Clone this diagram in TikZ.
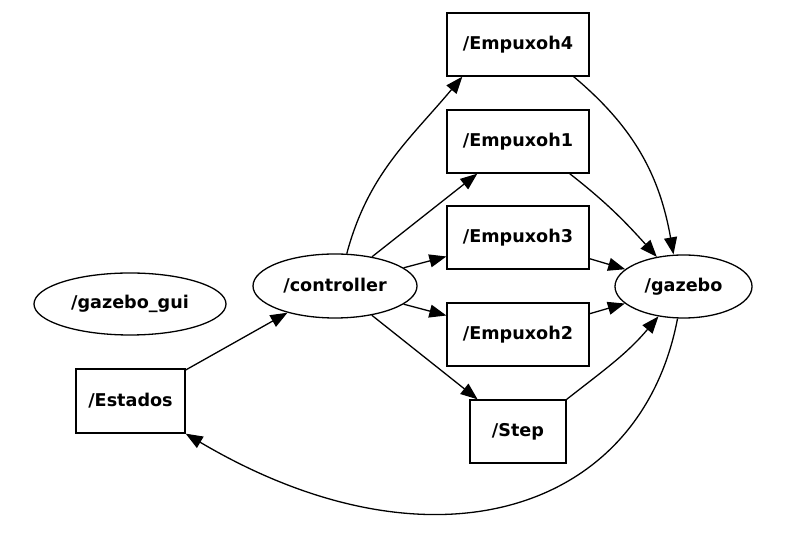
\documentclass[tikz,border=0pt]{standalone}
\usepackage{fontspec}
\setmainfont{DejaVu Sans}
\usetikzlibrary{arrows.meta,shapes.geometric,calc}
\begin{document}
\begin{tikzpicture}[x=1pt,y=1pt,
  every node/.style={font=\fontsize{17.6}{20}\selectfont\bfseries, line width=1.3pt, draw, inner sep=0pt},
  boxn/.style={rectangle, minimum height=63pt},
  elln/.style={ellipse},
  arr/.style={-{Triangle[length=17pt,width=13pt]}, line width=1.3pt}]
\useasboundingbox (0,0) rectangle (791,537);
\node[boxn, minimum width=142pt] (e4) at (518,492.5) {/Empuxoh4};
\node[boxn, minimum width=142pt] (e1) at (518,395.5) {/Empuxoh1};
\node[boxn, minimum width=142pt] (e3) at (518,299.5) {/Empuxoh3};
\node[boxn, minimum width=142pt] (e2) at (518,202.5) {/Empuxoh2};
\node[boxn, minimum width=96pt] (step) at (518,105.5) {/Step};
\node[boxn, minimum width=109pt, minimum height=64pt] (estados) at (130.5,136) {/Estados};
\node[elln, minimum width=137pt, minimum height=63pt] (gazebo) at (683.5,250.5) {/gazebo};
\node[elln, minimum width=164pt, minimum height=64pt] (ctrl) at (335,251) {/controller};
\node[elln, minimum width=192pt, minimum height=62pt] (gui) at (130,233) {/gazebo\_gui};
\draw[arr] (estados) -- (ctrl);
\draw[arr] (ctrl.70) to[out=75,in=-130] ($(e4.south west)+(16,0)$);
\draw[arr] (ctrl) -- (e1);
\draw[arr] (ctrl) -- (e3);
\draw[arr] (ctrl) -- (e2);
\draw[arr] (ctrl) -- (step);
\draw[arr] ($(e4.south east)+(-16,0)$) to[out=-40,in=100] ($(gazebo.north)+(-10,0)$);
\draw[arr] ($(e1.south east)+(-20,0)$) to[out=-38,in=132] (gazebo);
\draw[arr] (e3) -- (gazebo);
\draw[arr] (e2) -- (gazebo);
\draw[arr] (step.north east) to[out=38,in=-130] (gazebo);
\draw[arr] ($(gazebo.south)+(-6,0)$) .. controls +(-37,-195) and +(245,-145) .. (estados.south east);
\end{tikzpicture}
\end{document}
